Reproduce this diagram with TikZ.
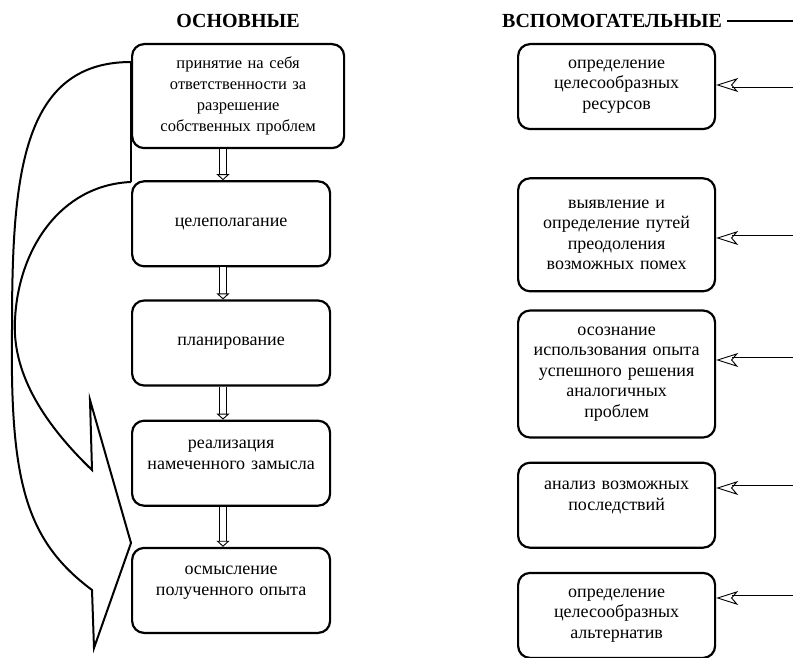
\documentclass[tikz,border=0pt]{standalone}
\usepackage{fontspec}
\setmainfont{Liberation Serif}
\usetikzlibrary{arrows.meta,positioning}
\tikzset{title/.style ={
        font=\fontsize{20}{24}\selectfont\bfseries,
        inner sep=0pt
    },
    flow/.style ={
        draw,
        double,
        line width=0.9pt,
        double distance=5.5pt,
        -{Triangle[open,length=6pt,width=13pt]}
    },
    feed/.style ={
        draw,
        double,
        line width=0.9pt,
        double distance=5pt,
        -{Stealth[open,length=22pt,width=14pt,inset=6pt]}
    },
    loop/.style ={
        draw,
        line width=2pt,
        line join=miter
    }}
\begin{document}
\begin{tikzpicture}
    [
    x=1pt, y=-1pt,
    node distance=32pt and 0pt,
    block/.style ={
        rectangle,
        draw=black,
        line width=2.2pt,
        rounded corners=12pt,
        align=center,
        font=\fontsize{18}{20.5}\selectfont,
        inner sep=4pt
    },
    main/.style ={block, text width=190pt, minimum width=198pt, minimum height=85pt},
    aux/.style ={block, text width=189pt, minimum width=197pt, minimum height=85pt},
    topped/.style ={inner ysep=0pt, minimum height=0pt, text height=#1, text depth=85pt-#1}
    ]
    \useasboundingbox (0,0) rectangle (793,658);

    \node (basic)[title] at (238,21) {ОСНОВНЫЕ};
    \node (extra)[title] at (612,21) {ВСПОМОГАТЕЛЬНЫЕ};
    \coordinate (rim) at (793,20);
    \draw[line width=1.2pt] ([xshift=5pt]extra.east) -- (extra.east -| rim);

    % main steps
    \node (resp)[block, font=\fontsize{16.5}{21}\selectfont, text width=204pt, minimum width=212pt, minimum height=104pt, anchor=north west] at (131,43)
        {принятие на себя\\ответственности за\\разрешение\\собственных проблем};
    \node (goal)[main, below=31pt of resp.south west, anchor=north west] {целеполагание};
    \node (plan)[main, below=32pt of goal.south west, anchor=north west] {планирование};
    \node (impl)[main, topped=28pt, below=33pt of plan.south west, anchor=north west] {реализация\\намеченного замысла};
    \node (refl)[main, topped=27pt, below=40pt of impl.south west, anchor=north west] {осмысление\\полученного опыта};

    % auxiliary steps
    \node (res)[aux, anchor=north west] at (517,43) {определение\\целесообразных\\ресурсов};
    \node (obst)[aux, minimum height=113pt, below=47pt of res.south west, anchor=north west]
        {выявление и\\определение путей\\преодоления\\возможных помех};
    \node (exp)[aux, minimum height=127pt, below=17pt of obst.south west, anchor=north west]
        {осознание\\использования опыта\\успешного решения\\аналогичных\\проблем};
    \node (cons)[aux, topped=27pt, below=23pt of exp.south west, anchor=north west] {анализ возможных\\последствий};
    \node (alt)[aux, below=23pt of cons.south west, anchor=north west] {определение\\целесообразных\\альтернатив};

    \coordinate (axis) at (223,0);
    \draw[flow] (resp.south -| axis) -- (goal.north -| axis);
    \draw[flow] (goal.south -| axis) -- (plan.north -| axis);
    \draw[flow] (plan.south -| axis) -- (impl.north -| axis);
    \draw[flow] (impl.south -| axis) -- (refl.north -| axis);

    \coordinate (in1) at (793,85);
    \coordinate (in2) at (793,238);
    \coordinate (in3) at (793,360);
    \coordinate (in4) at (793,488);
    \coordinate (in5) at (793,598);
    \draw[feed] (in1) -- (res.east |- in1);
    \draw[feed] (in2) -- (obst.east |- in2);
    \draw[feed] (in3) -- (exp.east |- in3);
    \draw[feed] (in4) -- (cons.east |- in4);
    \draw[feed] (in5) -- (alt.east |- in5);

    % feedback arrow
    \draw[loop] (131,62) .. controls (20,62) and (12,180) .. (12,330)
        .. controls (10,480) and (25,540) .. (92,590) -- (94,648) -- (131,543)
        -- (90,400) -- (92,470) .. controls (40,420) and (12,370) .. (15,320)
        .. controls (18,250) and (60,185) .. (131,182);
    \draw[loop] (131,62) -- (131,182);
\end{tikzpicture}
\end{document}
